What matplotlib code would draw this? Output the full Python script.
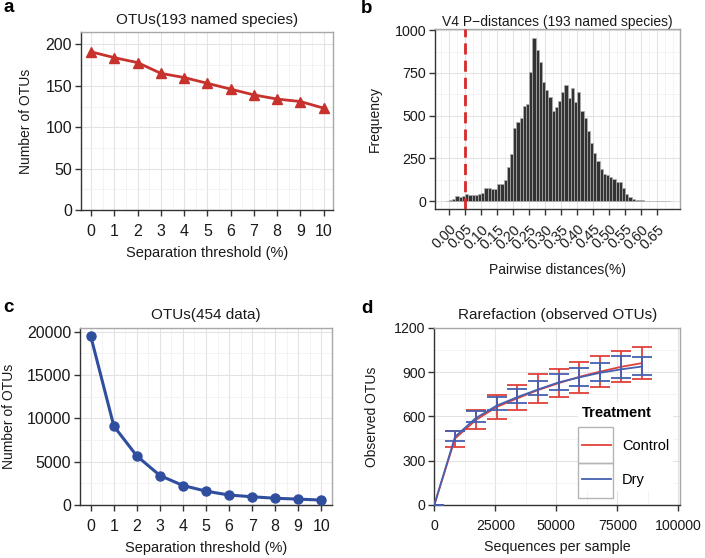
import numpy as np
import matplotlib
matplotlib.use("Agg")
import matplotlib.pyplot as plt
from matplotlib.patches import Rectangle
from matplotlib.ticker import MultipleLocator

plt.rcParams['font.family'] = ['Liberation Sans', 'DejaVu Sans']

# ---------------- data ----------------
# panel a
thr_a = [0, 1, 2, 3, 4, 5, 6, 7, 8, 9, 10]
otus_named = [191, 184, 178, 165, 160, 153, 146, 139, 134, 131, 123]

# panel b (histogram, bin width 0.01, bins starting at -0.01)
bin_width = 0.01
bin_first = -0.01
hist_counts = [2, 5, 15, 28, 22, 32, 42, 35, 35, 37, 40, 48, 78, 75, 72, 68,
               102, 100, 126, 197, 275, 425, 460, 484, 555, 569, 754, 957, 886,
               812, 696, 648, 609, 526, 548, 586, 638, 677, 603, 661, 580, 638,
               526, 487, 410, 338, 282, 236, 185, 159, 155, 139, 132, 114, 112,
               77, 43, 23, 12, 6, 5, 4, 3, 3, 2, 2, 2, 1, 1, 1]
cutoff = 0.05
b_ticks = [0.00, 0.05, 0.10, 0.15, 0.20, 0.25, 0.30, 0.35, 0.40, 0.45, 0.50,
           0.55, 0.60, 0.65]

# panel c
thr_c = [0, 1, 2, 3, 4, 5, 6, 7, 8, 9, 10]
otus_454 = [19450, 9100, 5650, 3400, 2250, 1600, 1150, 950, 780, 680, 570]

# panel d
depth = [0, 8500, 17000, 25500, 34000, 42500, 51000, 59500, 68000, 76500, 85000]
ctrl_mean = [0, 450, 575, 663, 722, 778, 825, 868, 903, 935, 960]
dry_mean = [0, 462, 588, 672, 730, 782, 830, 864, 895, 918, 937]
ctrl_lo = [0, 395, 512, 582, 643, 692, 729, 756, 797, 830, 853]
ctrl_hi = [0, 501, 643, 744, 812, 884, 918, 970, 1008, 1044, 1067]
dry_lo = [0, 433, 562, 643, 688, 744, 775, 805, 839, 857, 882]
dry_hi = [0, 503, 636, 733, 783, 841, 885, 925, 963, 1008, 1002]
treatments = ['Control', 'Dry']

# ---------------- style ----------------
RED_A = '#c8322d'
BLUE_C = '#2f4e9e'
RED_D = '#e0403a'
BLUE_D = '#4560b0'
TXT = '#1a1a1a'

fig = plt.figure(figsize=(7.05, 5.58), dpi=100)
W, H = 705.0, 558.0


def mk_axes(left, right, top, bottom):
    return fig.add_axes([left / W, 1 - bottom / H, (right - left) / W, (bottom - top) / H])


def style(ax, tsize):
    ax.set_facecolor('white')
    ax.set_axisbelow(True)
    for s in ['left', 'bottom']:
        ax.spines[s].set_color('#333333')
        ax.spines[s].set_linewidth(1.0)
    for s in ['top', 'right']:
        ax.spines[s].set_color('#a8a8a8')
        ax.spines[s].set_linewidth(1.0)
    ax.grid(True, which='major', color='#e3e3e3', linewidth=0.8)
    ax.grid(True, which='minor', color='#f1f1f1', linewidth=0.6)
    ax.tick_params(which='major', direction='out', length=4.3, width=1.0,
                   color='#333333', labelsize=tsize, labelcolor=TXT, pad=2)
    ax.tick_params(which='minor', length=0)


# ---- panel a ----
axa = mk_axes(80.7, 333, 32, 210)
style(axa, 11.5)
axa.plot(thr_a, otus_named, color=RED_A, lw=2.0, marker='^', ms=6.5, zorder=3)
axa.set_xlim(-0.45, 10.4)
axa.set_ylim(0, 215)
axa.set_xticks(thr_a)
axa.xaxis.set_minor_locator(MultipleLocator(0.5))
axa.yaxis.set_major_locator(MultipleLocator(50))
axa.yaxis.set_minor_locator(MultipleLocator(25))
axa.set_title('OTUs(193 named species)', fontsize=11, color=TXT, pad=6)
axa.set_xlabel('Separation threshold (%)', fontsize=10.5, color=TXT, labelpad=5.5)
axa.set_ylabel('Number of OTUs', fontsize=10, color=TXT, labelpad=9)
axa.tick_params(axis='x', pad=5.5)

# ---- panel b ----
axb = mk_axes(435, 680, 29.3, 209.3)
style(axb, 10.3)
lefts = [round(bin_first + i * bin_width, 2) for i in range(len(hist_counts))]
axb.bar(lefts, hist_counts, width=bin_width, align='edge', color='#333333',
        edgecolor='#b0b0b0', linewidth=0.5, zorder=2)
axb.axvline(cutoff, color='#d42a2a', lw=2.0, ls=(0, (4, 2.2)), zorder=3)
axb.set_xlim(-0.044, 0.721)
axb.set_ylim(-48, 1005)
axb.set_xticks(b_ticks)
axb.set_xticklabels([f'{t:.2f}' for t in b_ticks], rotation=45, ha='right',
                    rotation_mode='anchor')
axb.xaxis.set_minor_locator(MultipleLocator(0.025))
axb.yaxis.set_major_locator(MultipleLocator(250))
axb.yaxis.set_minor_locator(MultipleLocator(125))
axb.set_title('V4 P\u2212distances (193 named species)', fontsize=10, color=TXT, pad=2)
axb.set_xlabel('Pairwise distances(%)', fontsize=10, color=TXT, labelpad=8)
axb.set_ylabel('Frequency', fontsize=10, color=TXT, labelpad=9)
axb.tick_params(axis='x', pad=5)

# ---- panel c ----
axc = mk_axes(80, 332, 327.7, 505)
style(axc, 11.5)
axc.plot(thr_c, otus_454, color=BLUE_C, lw=2.2, marker='o', ms=6.5, zorder=3)
axc.set_xlim(-0.47, 10.47)
axc.set_ylim(0, 20460)
axc.set_xticks(thr_c)
axc.xaxis.set_minor_locator(MultipleLocator(0.5))
axc.yaxis.set_major_locator(MultipleLocator(5000))
axc.yaxis.set_minor_locator(MultipleLocator(2500))
axc.set_title('OTUs(454 data)', fontsize=11, color=TXT, pad=6)
axc.set_xlabel('Separation threshold (%)', fontsize=10.5, color=TXT, labelpad=5.5)
axc.set_ylabel('Number of OTUs', fontsize=10, color=TXT, labelpad=8)
axc.tick_params(axis='x', pad=5.5)

# ---- panel d ----
axd = mk_axes(434.3, 680, 327.7, 505)
style(axd, 10.2)
cols = [RED_D, BLUE_D]
means = [ctrl_mean, dry_mean]
los = [ctrl_lo, dry_lo]
his = [ctrl_hi, dry_hi]
for name, c, m, lo, hi in zip(treatments, cols, means, los, his):
    m = np.array(m)
    axd.plot(depth, m, color=c, lw=1.3, zorder=3, label=name)
    axd.errorbar(depth, m, yerr=[m - np.array(lo), np.array(hi) - m], fmt='none',
                 ecolor=c, elinewidth=1.3, capsize=7, capthick=1.3, zorder=3)
axd.set_xlim(0, 100700)
axd.set_ylim(0, 1200)
axd.xaxis.set_major_locator(MultipleLocator(25000))
axd.xaxis.set_minor_locator(MultipleLocator(12500))
axd.yaxis.set_major_locator(MultipleLocator(300))
axd.yaxis.set_minor_locator(MultipleLocator(150))
axd.set_title('Rarefaction (observed OTUs)', fontsize=11, color=TXT, pad=6)
axd.set_xlabel('Sequences per sample', fontsize=10.3, color=TXT, labelpad=5.5)
axd.set_ylabel('Observed OTUs', fontsize=10, color=TXT, labelpad=11)
axd.tick_params(axis='x', pad=5.5)

leg = axd.legend(title='Treatment', loc='upper left', bbox_to_anchor=(0.585, 0.58),
                 frameon=True, facecolor='white', edgecolor='none', framealpha=1,
                 fontsize=10.5, title_fontproperties={'weight': 'bold', 'size': 10.5},
                 handlelength=2.0, handletextpad=0.75, labelspacing=1.35,
                 borderpad=0.25, alignment='left', borderaxespad=0)
leg.set_zorder(5)
for yb, hb in [(0.0378, 0.2008), (0.2386, 0.1994)]:
    axd.add_patch(Rectangle((0.586, yb), 0.1425, hb, transform=axd.transAxes,
                            facecolor='none', edgecolor='#b5b5b5', lw=1.0,
                            zorder=6, clip_on=False))

# panel letters
for lbl, x, y in [('a', 3, 12), ('b', 361, 13), ('c', 3, 312), ('d', 361, 313)]:
    fig.text(x / W, 1 - y / H, lbl, fontsize=13.5, fontweight='bold', color='black')

fig.savefig('out.png', dpi=100)
